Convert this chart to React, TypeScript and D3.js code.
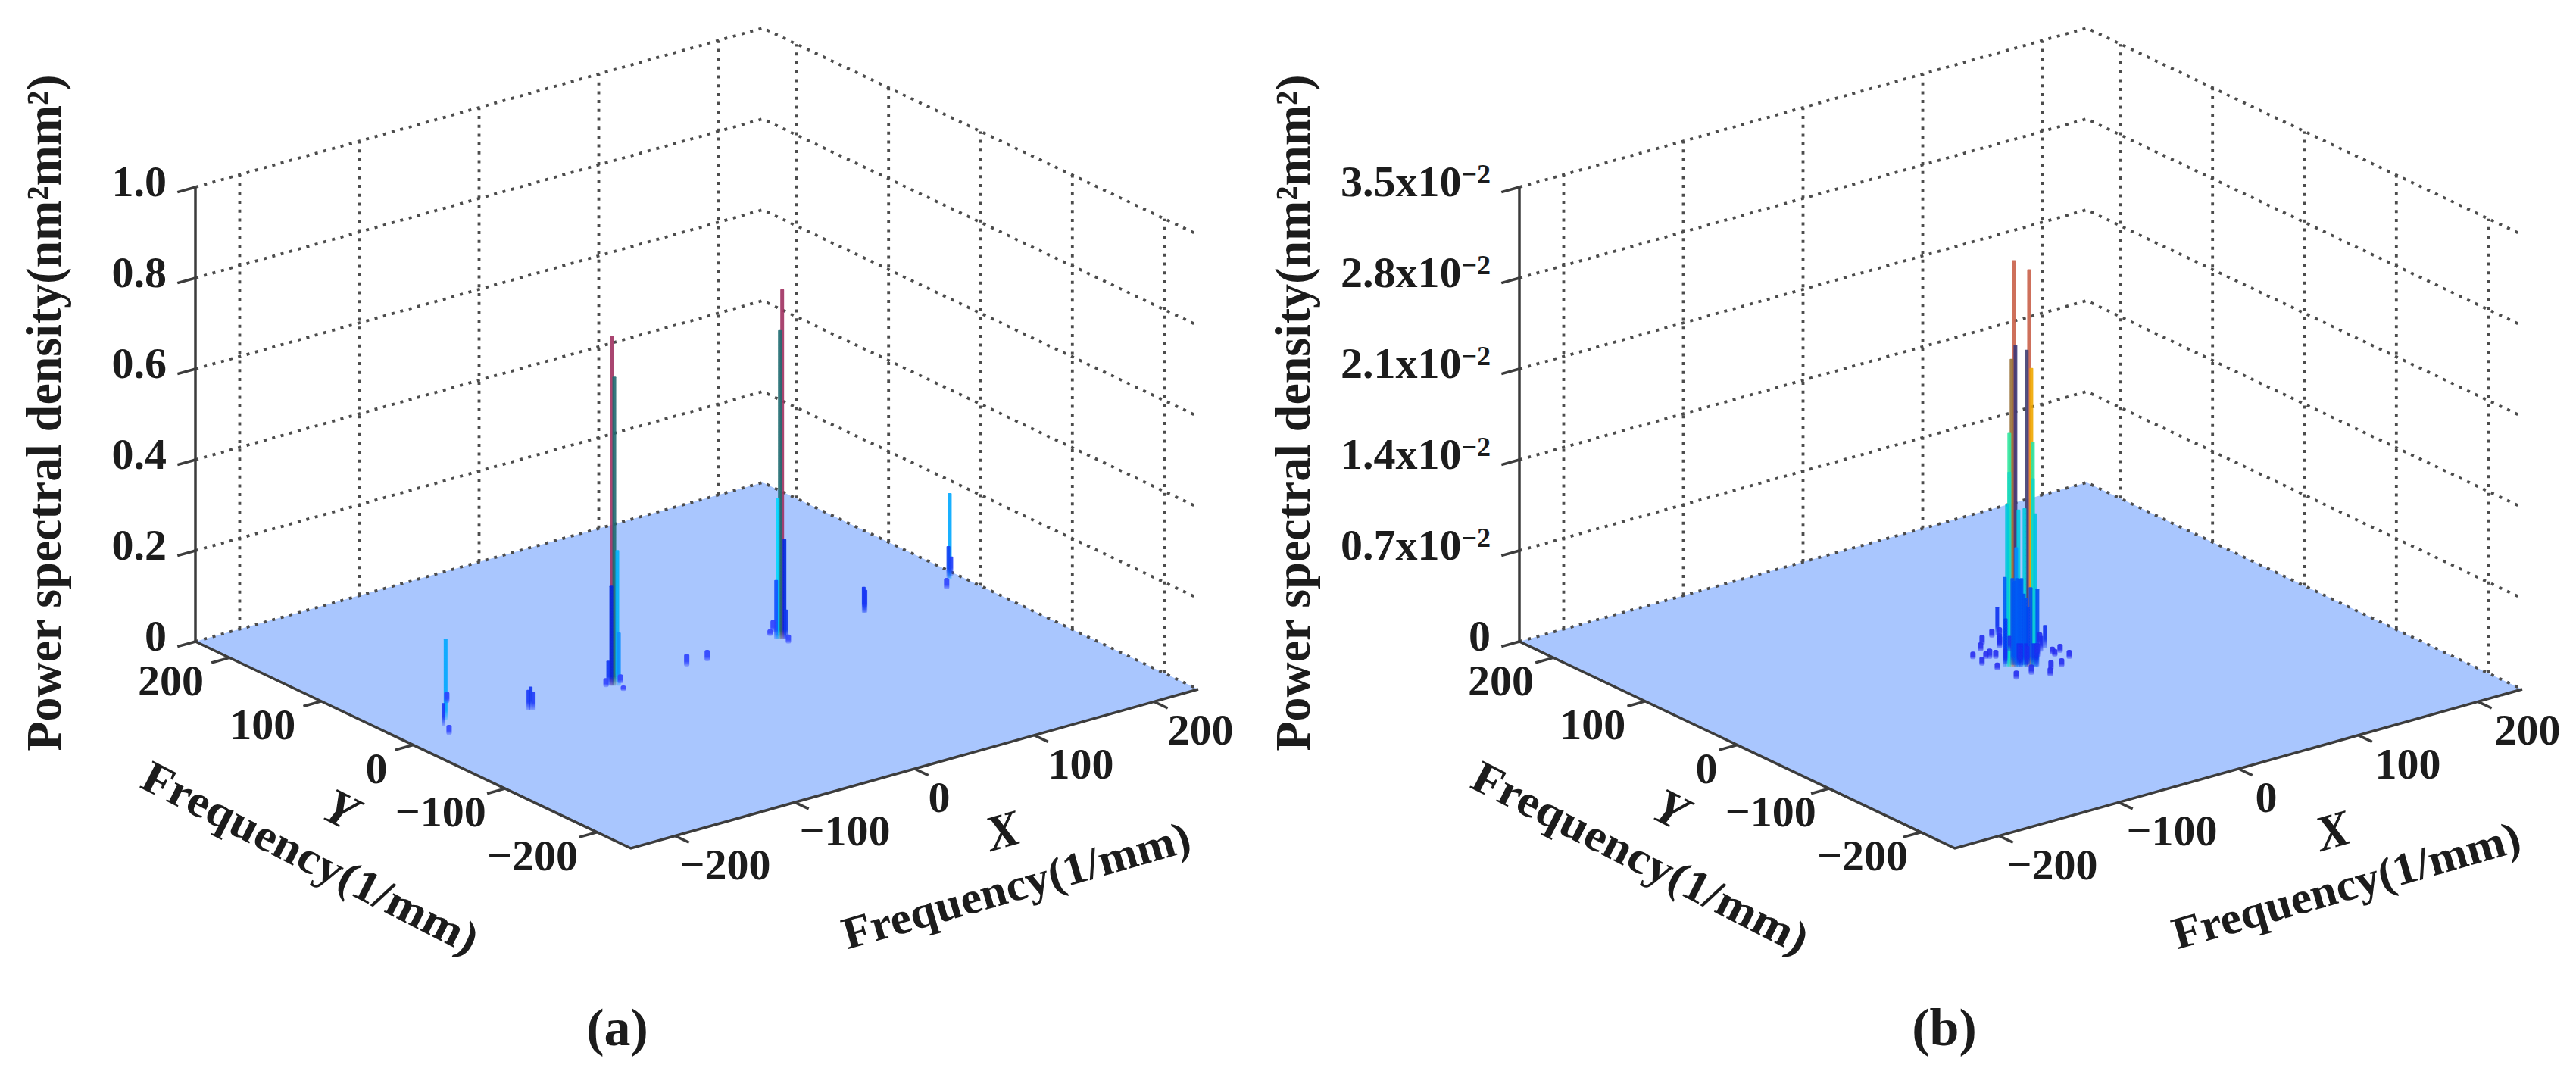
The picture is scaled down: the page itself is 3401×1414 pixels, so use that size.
import React from 'react';
import * as d3 from 'd3';

type Stem = [number, number, number];

// Frequency axes, both panels
const freqTicks = [-200, -100, 0, 100, 200];
const freqLimit = 237;

// Panel (a): z axis
const zTicksA = [0, 0.2, 0.4, 0.6, 0.8, 1.0];
const zLabelsA = ['0', '0.2', '0.4', '0.6', '0.8', '1.0'];

// Panel (b): z axis
const zTicksB = [0, 0.007, 0.014, 0.021, 0.028, 0.035];
const zLabelsB = ['0', '0.7', '1.4', '2.1', '2.8', '3.5'];

// Panel (a): spectral peaks as [fx, fy, psd]
const stemsA: Stem[] = [
  [-67, 5, 0.77], [-65.8, 4.1, 0.68], [-60, 8.4, 0.29], [-67.4, 5.3, 0.22],
  [-63.4, 2.2, 0.117], [-69, 6.5, 0.055], [-71.9, 5.2, 0.02], [-60.1, 4.9, 0.02], [-66.9, -7.2, 0.012],
  [74, 3.5, 0.77], [72.8, 4.4, 0.68], [71.6, 5.3, 0.31], [75.2, 2.6, 0.22],
  [70.8, 5.9, 0.13], [76, 2, 0.065], [76.7, 16.9, 0.027], [71, 12.8, 0.015], [72.2, -5.6, 0.02],
  [-192, 23.3, 0.178], [-173, 46.8, 0.025], [-200, 15.2, 0.05], [-207, 0, 0.022],
  [228, 21.7, 0.19], [229, 24.5, 0.07], [233, 26.6, 0.042], [215.4, 8.7, 0.025],
  [-137, 2.4, 0.052], [-138.2, 3.3, 0.045], [-135.4, 1.2, 0.04],
  [146, 8.5, 0.057], [147, 8, 0.05],
  [-6.6, 2.4, 0.028], [10, 1.7, 0.025],
];

// Panel (b): central peak cluster as [fx, fy, psd]
const stemsB: Stem[] = [
  [-5, 1.1, 0.0313], [3, -5.1, 0.0306], [-4.2, 0.4, 0.0248], [1.8, -4.1, 0.0244],
  [-6.2, 2, 0.0237], [4.2, -6, 0.023], [-7.4, 2.9, 0.018], [5, -6.6, 0.0173],
  [-7.4, 2.9, 0.015], [5, -6.6, 0.0145],
  [-8.6, 3.8, 0.0125], [6.2, -7.5, 0.0118], [-2.6, -0.8, 0.0121], [0.6, -3.2, 0.0122],
  [-3.8, 0.1, 0.0092], [-1.4, -1.7, 0.0067], [-9.8, 4.7, 0.0069], [7.4, -8.4, 0.006],
  [-4.1, 3.9, 0.0067], [-2.9, 3, 0.0065], [-1.7, 2, 0.0067], [-0.5, 1.1, 0.0066], [0.7, 0.2, 0.0067],
  [1.9, -0.7, 0.0055], [3.1, -1.6, 0.0052], [4.3, -2.5, 0.0045], [5.5, -3.5, 0.006],
  [20.7, 52.6, 0.0022], [31.4, 14.7, 0.0018], [-3.5, 12, 0.0033],
  [-2.6, -0.8, 0.0018], [-1, -2, 0.0018], [1.4, -3.8, 0.0018], [5.4, -6.9, 0.0018], [7, -8.1, 0.0018],
  [-18.5, 28, 0.0006], [1.8, 44.5, 0.0008], [-20.9, 15, 0.0007], [-9.3, 21.8, 0.0008],
  [7.6, 33.1, 0.001], [-6.9, 7.7, 0.0012], [-17.9, 2.3, 0.0006], [-18, -18.5, 0.0007],
  [-5, -18, 0.0008], [3.2, -27.8, 0.0007], [34.4, 2.1, 0.0007], [32.5, -10.4, 0.0007],
  [19.3, -19.3, 0.0007], [10.3, -19.4, 0.0008], [32.1, 21.3, 0.001], [28.7, 3, 0.0006],
  [2.4, 4.1, 0.0014], [4.7, -1.1, 0.0014], [17.5, 4.7, 0.0011], [9.4, 24.7, 0.0012],
  [-5.7, 36.3, 0.0007], [-6.1, 19.3, 0.0007], [-11.3, 23.3, 0.0006], [15.3, 51.4, 0.0007],
  [21, 50.6, 0.0007], [10.1, 36.4, 0.001], [26.1, 11.8, 0.0012], [27.4, -1.3, 0.0006],
];

// Colormaps, by psd value
const colorDomainA = [0.01, 0.03, 0.06, 0.117, 0.13, 0.178, 0.19, 0.22, 0.31, 0.68, 0.77];
const colorRangeA = ['#3a48ff', '#2a40ff', '#0a30f0', '#1090ff', '#0a50ff', '#00a8ff', '#00a8ff', '#0028e0', '#00d8ff', '#1f6a70', '#a03060'];
const colorDomainB = [0.0005, 0.002, 0.0067, 0.0092, 0.0121, 0.018, 0.023, 0.0245, 0.0306];
const colorRangeB = ['#2a2ef0', '#0a30f0', '#0058f4', '#0090ff', '#00c8e0', '#30e8a0', '#f0a800', '#35357a', '#c9604a'];

const font = '"Liberation Serif", serif';
const ink = '#1c1c1c';
const axisColor = '#3c3c3c';
const gridColor = '#4c4c4c';
const floorColor = '#A9C6FE';

const zPixels = 600;
const front: [number, number] = [833, 1120];
const xEdge: [number, number] = [749, -210];
const yEdge: [number, number] = [-575, -273];

interface PanelProps {
  id: string;
  shift: number;
  labelShift: number;
  zTicks: number[];
  zLabels: string[];
  exponent?: string;
  stems: Stem[];
  colorDomain: number[];
  colorRange: string[];
  titleX: number;
  caption: string;
}

const Panel = ({ id, shift, labelShift, zTicks, zLabels, exponent, stems, colorDomain, colorRange, titleX, caption }: PanelProps) => {
  const zMax = zTicks[zTicks.length - 1];
  const fx = d3.scaleLinear().domain([-freqLimit, freqLimit]).range([0, 1]);
  const fy = d3.scaleLinear().domain([-freqLimit, freqLimit]).range([0, 1]);
  const fz = d3.scaleLinear().domain([0, zMax]).range([0, -zPixels]);
  const color = d3.scaleLinear<string>().domain(colorDomain).range(colorRange).clamp(true);

  const project = (x: number, y: number, z: number): [number, number] => [
    front[0] + shift + fx(x) * xEdge[0] + fy(y) * yEdge[0],
    front[1] + fx(x) * xEdge[1] + fy(y) * yEdge[1] + fz(z),
  ];
  const line = d3.line();
  const lo = -freqLimit;
  const hi = freqLimit;
  const tickLen = 15;

  const floor = line([project(lo, lo, 0), project(hi, lo, 0), project(hi, hi, 0), project(lo, hi, 0)]) + 'Z';
  const sorted = [...stems].sort((a, b) => d3.descending(a[2], b[2]));

  return (
    <g>
      {/* wall grid */}
      <g fill="none" stroke={gridColor} strokeWidth={3.8} strokeDasharray="4 7.7">
        {zTicks.slice(1).map(z => (
          <path key={z} d={line([project(lo, hi, z), project(hi, hi, z), project(hi, lo, z)]) as string} />
        ))}
        {freqTicks.map(v => (
          <path key={'x' + v} d={line([project(v, hi, 0), project(v, hi, zMax)]) as string} />
        ))}
        {freqTicks.map(v => (
          <path key={'y' + v} d={line([project(hi, v, 0), project(hi, v, zMax)]) as string} />
        ))}
      </g>

      <path d={floor} fill={floorColor} />

      <path
        d={line([project(lo, hi, 0), project(hi, hi, 0), project(hi, lo, 0)]) as string}
        fill="none" stroke={gridColor} strokeWidth={3.8} strokeDasharray="4 7.7"
      />

      {/* peaks */}
      <defs>
        {sorted.map((s, i) => {
          const h = -fz(s[2]);
          return (
            <linearGradient key={i} id={`${id}-stem-${i}`} x1="0" y1="1" x2="0" y2="0">
              <stop offset="0" stopColor={color(s[2])} stopOpacity={0.25} />
              <stop offset={Math.min(0.4, 12 / h)} stopColor={color(s[2])} stopOpacity={0.9} />
              <stop offset="1" stopColor={color(s[2])} stopOpacity={0.9} />
            </linearGradient>
          );
        })}
        <filter id={`${id}-soft`} x="-20%" y="-5%" width="140%" height="110%">
          <feGaussianBlur stdDeviation="0.7" />
        </filter>
      </defs>
      <g filter={`url(#${id}-soft)`}>
        {sorted.map((s, i) => {
          const base = project(s[0], s[1], 0);
          const top = project(s[0], s[1], s[2]);
          const h = base[1] - top[1];
          // the short blobs read wider than the tall stems
          const w = h < 20 ? 7 : 5;
          return (
            <rect
              key={i}
              x={base[0] - w / 2}
              y={top[1]}
              width={w}
              height={h}
              rx={h < 20 ? 2.5 : 1}
              fill={`url(#${id}-stem-${i})`}
            />
          );
        })}
      </g>

      {/* axes */}
      <g fill="none" stroke={axisColor} strokeWidth={3.5}>
        <path d={line([project(lo, hi, zMax), project(lo, hi, 0), project(lo, lo, 0), project(hi, lo, 0)]) as string} />
        {zTicks.map(z => (
          <path key={z} d={line([project(lo, hi, z), project(lo - tickLen, hi, z)]) as string} />
        ))}
        {freqTicks.map(v => (
          <path key={'y' + v} d={line([project(lo, v, 0), project(lo - tickLen, v, 0)]) as string} />
        ))}
        {freqTicks.map(v => (
          <path key={'x' + v} d={line([project(v, lo, 0), project(v, lo - tickLen, 0)]) as string} />
        ))}
      </g>

      {/* tick labels */}
      <g fontFamily={font} fontWeight="bold" fill={ink} fontSize={58}>
        {zTicks.map((z, i) => {
          const p = project(lo, hi, z);
          return (
            <text key={z} x={p[0] - 38} y={p[1] + 12} textAnchor="end">
              {zLabels[i]}
              {exponent && i > 0 && <tspan>x10</tspan>}
              {exponent && i > 0 && <tspan fontSize={36} dy={-17}>{exponent}</tspan>}
            </text>
          );
        })}
        {freqTicks.map(v => {
          const p = project(lo, v, 0);
          return (
            <text key={'y' + v} x={p[0] + (v < 0 ? -25 : -34) + labelShift} y={p[1] + 50} textAnchor="end">
              {v < 0 ? `\u2212${-v}` : v}
            </text>
          );
        })}
        {freqTicks.map(v => {
          const p = project(v, lo, 0);
          return (
            <text key={'x' + v} x={p[0] + (v < 0 ? 6 : 18) + labelShift / 2} y={p[1] + 57} textAnchor="start">
              {v < 0 ? `\u2212${-v}` : v}
            </text>
          );
        })}
      </g>

      {/* axis titles */}
      <g fontFamily={font} fontWeight="bold" fill={ink} fontSize={60} textAnchor="middle">
        <text transform={`translate(${titleX},545) rotate(-90)`} fontSize={66} textLength={893} lengthAdjust="spacingAndGlyphs">
          Power spectral density(nm²mm²)
        </text>
        <text transform={`translate(${401 + shift + labelShift},1150) rotate(27)`} textLength={490} lengthAdjust="spacingAndGlyphs">
          Frequency(1/mm)
        </text>
        <text transform={`translate(${1347 + shift + labelShift},1188) rotate(-16)`} textLength={475} lengthAdjust="spacingAndGlyphs">
          Frequency(1/mm)
        </text>
        <text transform={`translate(${440 + shift + labelShift},1088) rotate(27)`} fontStyle="italic" fontSize={66}>Y</text>
        <text transform={`translate(${1330 + shift + labelShift},1118) rotate(-16)`} fontStyle="italic" fontSize={66}>X</text>
        <text x={815 + shift + labelShift / 2} y={1380} fontSize={70}>{caption}</text>
      </g>
    </g>
  );
};

const App = () => (
  <svg width={3401} height={1414} viewBox="0 0 3401 1414" style={{ position: 'absolute', left: 0, top: 0, display: 'block', background: '#fff' }}>
    <Panel
      id="a" shift={0} labelShift={0} zTicks={zTicksA} zLabels={zLabelsA}
      stems={stemsA} colorDomain={colorDomainA} colorRange={colorRangeA} titleX={80} caption="(a)"
    />
    <Panel
      id="b" shift={1748} labelShift={8} zTicks={zTicksB} zLabels={zLabelsB} exponent={'\u22122'}
      stems={stemsB} colorDomain={colorDomainB} colorRange={colorRangeB} titleX={1729} caption="(b)"
    />
  </svg>
);

export default App;
